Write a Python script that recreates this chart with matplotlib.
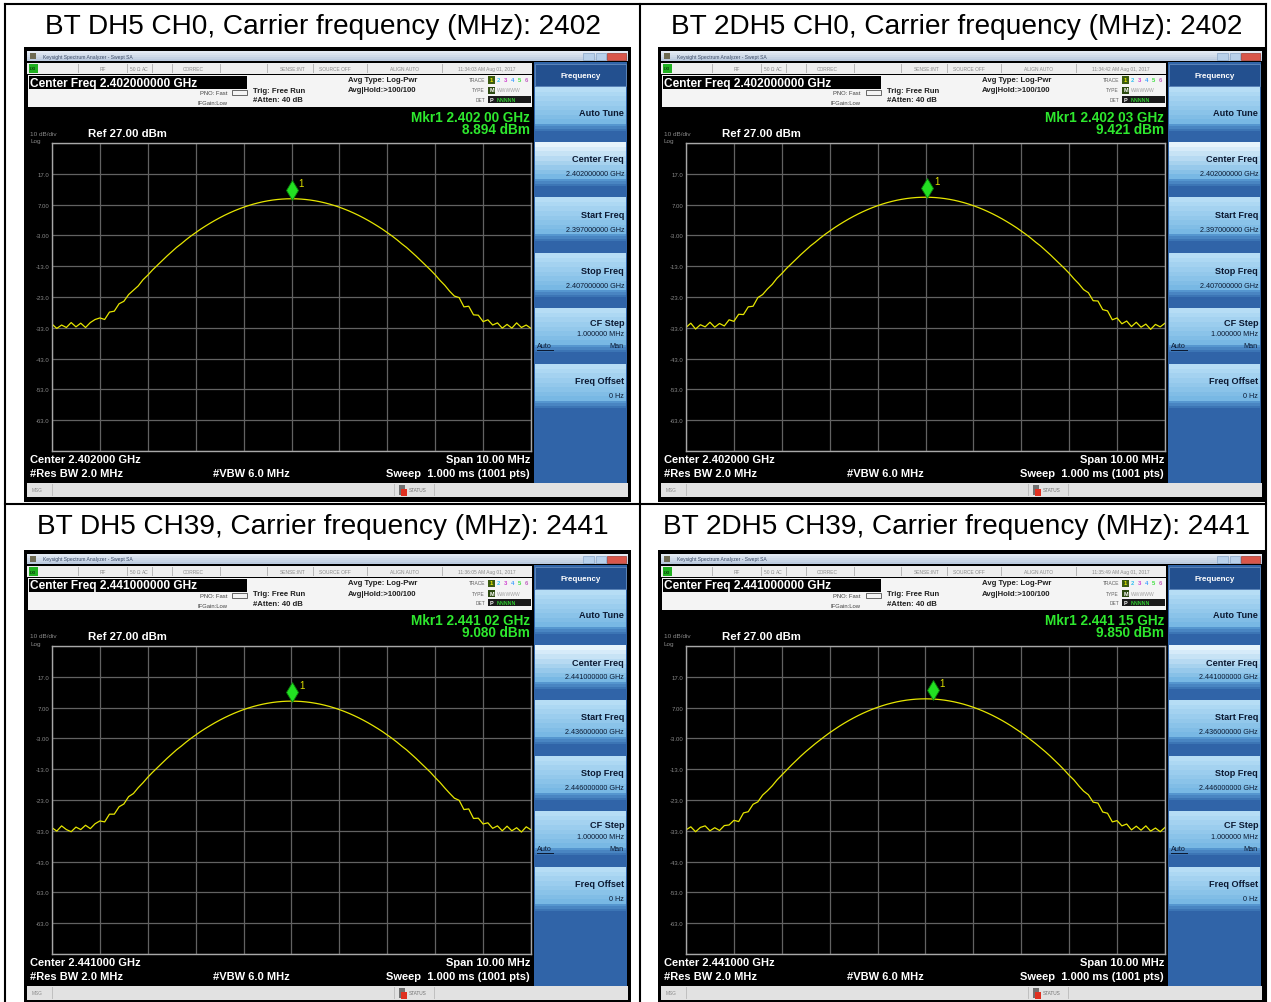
import numpy as np
import matplotlib
matplotlib.use('Agg')
import matplotlib.pyplot as plt
from matplotlib.patches import Rectangle
from matplotlib.transforms import offset_copy
from matplotlib.colors import to_rgb

W, H = 1271, 1003
FONT = 'Liberation Sans'

# ---------------- data ----------------
titles = ["BT DH5 CH0, Carrier frequency (MHz): 2402",
          "BT 2DH5 CH0, Carrier frequency (MHz): 2402",
          "BT DH5 CH39, Carrier frequency (MHz): 2441",
          "BT 2DH5 CH39, Carrier frequency (MHz): 2441"]
center_ghz = [2.402, 2.402, 2.441, 2.441]
start_ghz = [2.397, 2.397, 2.436, 2.436]
stop_ghz = [2.407, 2.407, 2.446, 2.446]
ref_dbm = 27.0
db_per_div = 10.0
mkr_freq_ghz = [2.40200, 2.40203, 2.44102, 2.44115]
mkr_dbm = [8.894, 9.421, 9.080, 9.850]
mkr_freq_text = ["2.402 00 GHz", "2.402 03 GHz", "2.441 02 GHz", "2.441 15 GHz"]
timestamps = ["11:34:03 AM Aug 01, 2017", "11:34:42 AM Aug 01, 2017",
              "11:36:05 AM Aug 01, 2017", "11:35:49 AM Aug 01, 2017"]
ytick_labels = ["17.0", "7.00", "-3.00", "-13.0", "-23.0", "-33.0", "-43.0", "-53.0", "-63.0"]

# traces (dBm, 101 points across the 10 MHz span)
trace_dh5_ch0 = [
    -31.8, -33.2, -32.1, -32.9, -31.3, -32.7, -31.5, -32.9, -31.3, -30.3,
    -29.8, -30.3, -27.9, -27.6, -25.2, -24.4, -22.2,
    -20.8, -19.4, -17.4, -15.9,
    -14.2, -12.7, -11.2, -9.7, -8.3, -6.9, -5.7, -4.4, -3.2, -2.1, -1.0, 0.0, 0.95, 1.86,
    2.71, 3.51, 4.25, 4.94, 5.57, 6.15, 6.67, 7.14, 7.55, 7.91, 8.21, 8.46, 8.65, 8.79, 8.87,
    8.90,
    8.87, 8.79, 8.65, 8.46, 8.21, 7.91, 7.55, 7.14, 6.67, 6.15, 5.57, 4.94, 4.25, 3.51, 2.71,
    1.86, 0.95, 0.0, -1.0, -2.1, -3.2, -4.4, -5.7, -6.9, -8.3, -9.7, -11.2, -12.7, -14.2,
    -15.8, -17.6, -19.2, -21.1,
    -22.7, -23.2, -26.2, -26.0, -28.8, -28.9, -31.0,
    -30.4, -32.1, -31.4, -33.1, -31.9, -33.1, -31.4, -32.9, -32.1, -33.2]
trace_2dh5_ch0 = [
    -32.9, -31.5, -33.4, -32.0, -32.7, -31.2, -32.8, -31.6, -32.4, -30.4,
    -30.9, -28.6, -28.7, -26.2, -26.0, -23.2, -22.2,
    -20.4, -18.9, -16.9, -15.4,
    -13.7, -12.2, -10.7, -9.2, -7.8, -6.4, -5.2, -3.9, -2.7, -1.6, -0.5, 0.5, 1.45, 2.36,
    3.21, 4.01, 4.75, 5.44, 6.07, 6.65, 7.17, 7.64, 8.05, 8.41, 8.71, 8.96, 9.15, 9.29, 9.37,
    9.40,
    9.37, 9.29, 9.15, 8.96, 8.71, 8.41, 8.05, 7.64, 7.17, 6.65, 6.07, 5.44, 4.75, 4.01, 3.21,
    2.36, 1.45, 0.5, -0.5, -1.6, -2.7, -3.9, -5.2, -6.4, -7.8, -9.2, -10.7, -12.2, -13.7,
    -15.3, -17.1, -18.7, -20.6,
    -21.6, -24.2, -24.3, -27.1, -27.5, -30.4, -29.8,
    -31.7, -30.8, -32.6, -31.2, -32.8, -31.8, -33.5, -31.9, -32.7, -31.5]
trace_dh5_ch39 = [
    -32.0, -33.1, -31.4, -32.6, -33.3, -31.8, -32.6, -31.2, -32.3, -30.7,
    -29.8, -30.1, -27.6, -27.6, -25.2, -24.3, -21.9,
    -20.9, -19.0, -17.4, -15.6,
    -14.0, -12.5, -11.0, -9.5, -8.1, -6.7, -5.5, -4.2, -3.0, -1.9, -0.8, 0.2, 1.15, 2.06,
    2.91, 3.71, 4.45, 5.14, 5.77, 6.35, 6.87, 7.34, 7.75, 8.11, 8.41, 8.66, 8.85, 8.99, 9.07,
    9.10,
    9.07, 8.99, 8.85, 8.66, 8.41, 8.11, 7.75, 7.34, 6.87, 6.35, 5.77, 5.14, 4.45, 3.71, 2.91,
    2.06, 1.15, 0.2, -0.8, -1.9, -3.0, -4.2, -5.5, -6.7, -8.1, -9.5, -11.0, -12.5, -14.0,
    -15.7, -17.3, -19.1, -20.8,
    -22.4, -23.1, -26.1, -25.9, -29.0, -28.9, -30.8,
    -30.4, -32.2, -31.4, -33.0, -31.5, -33.0, -32.0, -33.4, -31.7, -32.7]
trace_2dh5_ch39 = [
    -32.7, -31.7, -33.3, -31.9, -31.4, -33.0, -32.0, -32.9, -31.3, -31.1,
    -29.6, -30.0, -27.2, -26.8, -24.4, -23.6, -21.4,
    -20.0, -18.4, -16.5, -14.9,
    -13.3, -11.7, -10.2, -8.7, -7.3, -6.0, -4.7, -3.5, -2.3, -1.15, -0.1, 0.94, 1.90, 2.81,
    3.66, 4.46, 5.20, 5.89, 6.52, 7.10, 7.62, 8.09, 8.50, 8.86, 9.16, 9.41, 9.60, 9.74, 9.82,
    9.85,
    9.82, 9.74, 9.60, 9.41, 9.16, 8.86, 8.50, 8.09, 7.62, 7.10, 6.52, 5.89, 5.20, 4.46, 3.66,
    2.81, 1.90, 0.94, -0.1, -1.15, -2.3, -3.5, -4.7, -6.0, -7.3, -8.7, -10.2, -11.7, -13.3,
    -15.0, -16.5, -18.4, -20.1,
    -21.3, -23.7, -24.0, -26.9, -27.3, -30.1, -29.7,
    -31.4, -30.8, -32.7, -31.5, -32.8, -31.4, -33.1, -32.1, -33.3, -31.9]
traces = [trace_dh5_ch0, trace_2dh5_ch0, trace_dh5_ch39, trace_2dh5_ch39]

# ---------------- helpers ----------------
fig = plt.figure(figsize=(W / 100, H / 100), dpi=100)
fig.patch.set_facecolor('white')


def rect(x0, y0, x1, y1, fc, ec='none', lw=0, z=1):
    fig.add_artist(Rectangle((x0 / W, 1 - y1 / H), (x1 - x0) / W, (y1 - y0) / H,
                             transform=fig.transFigure, fc=fc, ec=ec, lw=lw, zorder=z))


def grad(x0, y0, x1, y1, ctop, cbot, n=10, z=1):
    a = np.array(to_rgb(ctop)); b = np.array(to_rgb(cbot))
    h = (y1 - y0) / n
    for k in range(n):
        t = k / max(n - 1, 1)
        rect(x0, y0 + k * h, x1, y0 + (k + 1) * h + 0.3, fc=tuple(a * (1 - t) + b * t), z=z)


def txt(x, y, s, size, color='black', ha='left', weight='normal', z=5, family=FONT):
    fig.text(x / W, 1 - y / H, s, fontsize=size, color=color, ha=ha, va='center',
             fontweight=weight, family=family, zorder=z)


def line(x0, y0, x1, y1, color='black', lw=1.5, z=30):
    fig.add_artist(plt.Line2D([x0 / W, x1 / W], [1 - y0 / H, 1 - y1 / H],
                              transform=fig.transFigure, color=color, lw=lw, zorder=z))


def draw_screen(ox, oy, i):
    def R(x0, y0, x1, y1, fc, **kw):
        rect(ox + x0, oy + y0, ox + x1, oy + y1, fc, **kw)

    def G(x0, y0, x1, y1, c0, c1, n=10):
        grad(ox + x0, oy + y0, ox + x1, oy + y1, c0, c1, n=n)

    def T(x, y, s, size, **kw):
        txt(ox + x, oy + y, s, size, **kw)

    R(0, 0, 607, 455, '#000000')
    # window title bar
    G(3, 4, 604, 14, '#e3eaf3', '#bccbdf', n=5)
    R(6, 6, 12, 12, '#6d6a52')
    T(19, 9, "Keysight Spectrum Analyzer - Swept SA", 3.6, color='#3a4a66')
    R(559, 6, 570, 13, '#b8d0ea', ec='#8aa6c8', lw=0.5, z=2)
    R(572, 6, 582, 13, '#b8d0ea', ec='#8aa6c8', lw=0.5, z=2)
    R(583, 6, 602, 13, '#d9564a', ec='#a33a30', lw=0.5, z=2)
    # status row
    R(3, 16, 508, 27, '#eeeeee')
    R(5, 17, 14, 26, '#20b020')
    T(6, 21.5, "LXI", 2.8, color='#063806', weight='bold')
    for sx in [54, 103, 128, 148, 196, 243, 289, 343, 418]:
        rect(ox + sx, oy + 17, ox + sx + 0.7, oy + 26, '#b8b8b8', z=2)
    for sx, s in [(79, "RF"), (111, "50 Ω"), (121, "AC"), (169, "CORREC"), (269, "SENSE:INT"),
                  (311, "SOURCE OFF"), (381, "ALIGN AUTO"), (463, timestamps[i])]:
        T(sx, 21.5, s, 3.5, color='#8a8a8a', ha='center')
    # settings panel
    R(4, 28, 508, 60, '#f4f4f4')
    R(5, 29, 223, 42, '#000000', z=2)
    T(6, 35.5, f"Center Freq {center_ghz[i]:.9f} GHz", 8.6, color='white', weight='bold', z=3)
    T(203, 45.5, "PNO: Fast", 4.2, color='#404040', ha='right')
    T(203, 55.5, "IFGain:Low", 4.2, color='#404040', ha='right')
    R(208, 43, 223, 48, '#f4f4f4', ec='#505050', lw=0.6, z=2)
    T(229, 43.5, "Trig: Free Run", 5.6, color='#202020', weight='bold')
    T(229, 53, "#Atten: 40 dB", 5.6, color='#202020', weight='bold')
    T(324, 33, "Avg Type: Log-Pwr", 5.6, color='#202020', weight='bold')
    T(324, 43, "Avg|Hold:>100/100", 5.6, color='#202020', weight='bold')
    T(461, 33, "TRACE", 3.5, color='#606060', ha='right')
    T(461, 43, "TYPE", 3.5, color='#606060', ha='right')
    T(461, 52.5, "DET", 3.5, color='#606060', ha='right')
    R(464, 29.5, 507, 57, '#f4f4f4')
    R(464, 29.5, 471, 36.5, '#3a5a10', z=2)
    for k, c in enumerate(['#f0f000', '#30c0f0', '#d040d0', '#40a0ff', '#40e040', '#c060c0']):
        T(467.5 + 7 * k, 33, str(k + 1), 4.2, color=c, ha='center', weight='bold', z=3)
    R(464, 39.5, 471, 46.5, '#2c4a10', z=2)
    T(467.5, 43, "M", 4.0, color='white', ha='center', weight='bold', z=3)
    T(473, 43, "WWWWW", 3.6, color='#a0a0a0')
    R(464, 49, 507, 56, '#1a1a1a', z=2)
    T(467.5, 52.5, "P", 4.0, color='white', ha='center', weight='bold', z=3)
    T(473, 52.5, "NNNNN", 3.8, color='#30d030', weight='bold', z=3)
    # marker readout
    T(506, 70, "Mkr1 " + mkr_freq_text[i], 9.8, color='#2ee82e', ha='right', weight='bold')
    T(506, 82, f"{mkr_dbm[i]:.3f} dBm", 9.8, color='#2ee82e', ha='right', weight='bold')
    T(6, 86, "10 dB/div", 4.6, color='#8a8a8a')
    T(6, 93.5, "Log", 4.6, color='#8a8a8a')
    T(64, 86, f"Ref {ref_dbm:.2f} dBm", 8.2, color='white', weight='bold')
    # bottom annotation
    T(6, 412, f"Center {center_ghz[i]:.6f} GHz", 8.0, color='white', weight='bold')
    T(6, 426, "#Res BW 2.0 MHz", 8.0, color='white', weight='bold')
    T(189, 426, "#VBW 6.0 MHz", 8.0, color='white', weight='bold')
    T(506, 412, "Span 10.00 MHz", 8.0, color='white', ha='right', weight='bold')
    T(506, 426, "Sweep  1.000 ms (1001 pts)", 8.0, color='white', ha='right', weight='bold')
    # message bar
    R(3, 436, 604, 450, '#e2e2e2')
    T(8, 443, "MSG", 3.4, color='#8a8a8a')
    R(28, 437, 29, 449, '#c0c0c0')
    R(370, 437, 371, 449, '#c0c0c0')
    R(410, 437, 411, 449, '#c0c0c0')
    R(375, 438, 381, 448, '#707070', z=2)
    R(377, 442, 383, 449, '#e03020', z=3)
    T(385, 443, "STATUS", 3.4, color='#707070')
    # softkey panel
    R(510, 15, 603, 436, '#3064a8')
    R(511, 17, 602, 39, '#23508f', ec='#6f94c4', lw=0.5, z=2)
    T(556.5, 28.5, "Frequency", 5.8, color='white', ha='center', weight='bold')
    tops = [40, 95, 150, 206, 261, 317]
    for k, tp in enumerate(tops):
        ctop = '#e6f4fc' if k == 1 else '#b6ddf5'
        G(511, tp, 602, tp + 37, ctop, '#78b8e4', n=8)
        G(511, tp + 37, 602, tp + 46, '#5596cf', '#3064a8', n=4)
    nav = '#0c1a33'
    T(600, 65, "Auto Tune", 6.6, color=nav, ha='right', weight='bold')
    T(600, 112, "Center Freq", 6.6, color=nav, ha='right', weight='bold')
    T(600, 127, f"{center_ghz[i]:.9f} GHz", 5.2, color=nav, ha='right')
    T(600, 167, "Start Freq", 6.6, color=nav, ha='right', weight='bold')
    T(600, 182, f"{start_ghz[i]:.9f} GHz", 5.2, color=nav, ha='right')
    T(600, 223, "Stop Freq", 6.6, color=nav, ha='right', weight='bold')
    T(600, 238, f"{stop_ghz[i]:.9f} GHz", 5.2, color=nav, ha='right')
    T(600, 275, "CF Step", 6.6, color=nav, ha='right', weight='bold')
    T(600, 287, "1.000000 MHz", 5.2, color=nav, ha='right')
    T(513, 299, "Auto", 5.2, color=nav)
    R(513, 303, 530, 303.8, nav, z=3)
    T(600, 299, "Man", 5.2, color=nav, ha='right')
    T(600, 334, "Freq Offset", 6.6, color=nav, ha='right', weight='bold')
    T(600, 349, "0 Hz", 5.2, color=nav, ha='right')

    # graticule (data axes)
    ax = fig.add_axes([(ox + 28) / W, 1 - (oy + 404) / H, 479 / W, 308 / H])
    ax.set_zorder(20)
    ax.set_facecolor('black')
    ax.set_xlim(start_ghz[i], stop_ghz[i])
    ax.set_ylim(ref_dbm - 10 * db_per_div, ref_dbm)
    ax.set_xticks(np.linspace(start_ghz[i], stop_ghz[i], 11))
    yt = [ref_dbm - db_per_div * k for k in range(11)]
    ax.set_yticks(yt)
    ax.set_yticklabels([""] + ytick_labels + [""])
    ax.tick_params(axis='y', length=0, pad=2, labelsize=4.3, labelcolor='#8a8a8a')
    ax.tick_params(axis='x', length=0, labelbottom=False)
    for lab in ax.get_yticklabels():
        lab.set_family(FONT)
    ax.grid(True, color='#626262', lw=0.9)
    for sp in ax.spines.values():
        sp.set_color('#a8a8a8'); sp.set_linewidth(1.0)
    freqs = np.linspace(start_ghz[i], stop_ghz[i], len(traces[i]))
    ax.plot(freqs, traces[i], color='#e6e600', lw=0.9)
    tr = offset_copy(ax.transData, fig=fig, y=6.5, units='points')
    ax.plot([mkr_freq_ghz[i]], [mkr_dbm[i]], marker='d', ms=10.5, color='#22e022',
            mec='#0b7a0b', mew=0.6, transform=tr, zorder=5)
    ax.annotate("1", xy=(mkr_freq_ghz[i], mkr_dbm[i]), xytext=(5, 11.5),
                textcoords='offset points', color='#e0e000', fontsize=7, family=FONT,
                va='center', ha='left')


origins = [(24, 48), (658, 48), (24, 551), (658, 551)]
title_pos = [(323, 27), (957, 27), (323, 527), (957, 527)]

for i in range(4):
    txt(title_pos[i][0], title_pos[i][1], titles[i], 20.2, color='black', ha='center')
    draw_screen(origins[i][0], origins[i][1], i)

# table borders
line(5, 5, 1266, 5)
line(5, 5, 5, 1003)
line(1266, 5, 1266, 1003)
line(640, 5, 640, 1003)
line(5, 505, 1266, 505)

fig.savefig('out.png', dpi=100, facecolor='white')
